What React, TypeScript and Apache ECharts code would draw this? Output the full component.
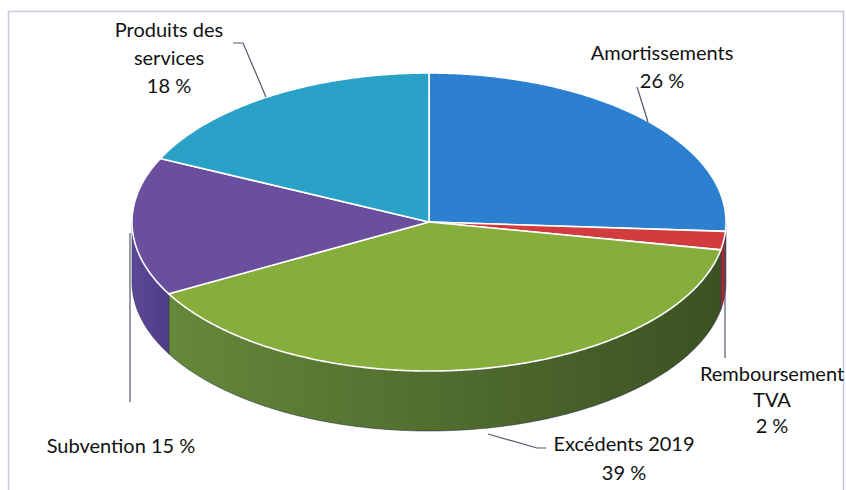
import React, { useEffect, useRef } from "react";
import * as echarts from "echarts";

const sliceNames = ["Amortissements", "Remboursement TVA", "Excédents 2019", "Subvention", "Produits des services"];
const sliceValues = [26, 2, 39, 15, 18];
const labelNames = ["Amortissements", "Remboursement\nTVA", "Excédents 2019", "Subvention", "Produits des\nservices"];
const labelSeparators = ["\n", "\n", "\n", " ", "\n"];
const topColors = ["#2d80cf", "#d23c3f", "#87ad3d", "#6a4f9e", "#2aa2c8"];
const sideColorsLeft = ["#2a6fb0", "#b02f33", "#66883a", "#5c4898", "#2288aa"];
const sideColorsRight = ["#235e98", "#8e2428", "#3b5123", "#4f3c88", "#1c7391"];

const CX = 429, CY = 222, RX = 297, RY = 149, DEPTH = 60;
const FONT = "20px Lato, 'Open Sans', sans-serif";

const total = sliceValues.reduce((a, b) => a + b, 0);
const starts: number[] = [];
{
  let acc = 0;
  for (const v of sliceValues) { starts.push(acc); acc += v; }
}

function pt(theta: number, dy = 0): number[] {
  return [CX + RX * Math.sin(theta), CY - RY * Math.cos(theta) + dy];
}
function arcPts(a: number, b: number, dy: number): number[][] {
  const n = Math.max(2, Math.ceil((b - a) / (Math.PI / 360)));
  const out: number[][] = [];
  for (let k = 0; k <= n; k++) out.push(pt(a + ((b - a) * k) / n, dy));
  return out;
}
function angles(i: number) {
  const a = (starts[i] / total) * Math.PI * 2;
  const b = ((starts[i] + sliceValues[i]) / total) * Math.PI * 2;
  return [a, b];
}

// label placement (positions only)
const labelPos = [
  { x: 662, y: 66, lh: 28 },
  { x: 772, y: 399, lh: 26 },
  { x: 624, y: 457, lh: 29 },
  { x: 121, y: 445, lh: 28 },
  { x: 169, y: 57, lh: 28 },
];
const leaderLines = [
  [[637, 87], [648, 122]],
  [[725, 242], [725, 358]],
  [[488, 434], [537, 448], [546, 448]],
  [[130, 233], [130, 402]],
  [[233, 43], [243, 43], [266, 97]],
];

export default function App() {
  const ref = useRef<HTMLDivElement>(null);
  useEffect(() => {
    if (!ref.current) return;
    const chart = echarts.init(ref.current, undefined, { renderer: "svg" });
    const data = sliceValues.map((v, i) => ({ name: sliceNames[i], value: v }));

    const sideSeries = {
      type: "custom",
      coordinateSystem: "none",
      z: 1,
      data,
      renderItem: (params: any) => {
        const i = params.dataIndex;
        const [a, b] = angles(i);
        const fa = Math.max(a, Math.PI / 2);
        const fb = Math.min(b, (Math.PI * 3) / 2);
        if (fb <= fa) return { type: "group", children: [] };
        const top = arcPts(fa, fb, 0);
        const bottom = arcPts(fa, fb, DEPTH).reverse();
        return {
          type: "polygon",
          shape: { points: top.concat(bottom) },
          style: {
            fill: new echarts.graphic.LinearGradient(0, 0, 1, 0, [
              { offset: 0, color: sideColorsLeft[i] },
              { offset: 1, color: sideColorsRight[i] },
            ]),
            stroke: "rgba(20,30,60,0.6)",
            lineWidth: 0.8,
          },
        };
      },
    };

    const topSeries = {
      type: "custom",
      coordinateSystem: "none",
      z: 2,
      data,
      renderItem: (params: any) => {
        const i = params.dataIndex;
        const [a, b] = angles(i);
        const pts = [[CX, CY]].concat(arcPts(a, b, 0));
        return {
          type: "polygon",
          shape: { points: pts },
          style: { fill: topColors[i], stroke: "#ffffff", lineWidth: 1.6, lineJoin: "round" },
        };
      },
    };

    const graphics: any[] = [
      {
        type: "polyline",
        shape: { points: [[8.5, 490], [8.5, 11.5], [843.5, 11.5], [843.5, 490]] },
        style: { stroke: "#c6cadd", lineWidth: 1.5, fill: "none" },
        z: 0,
      },
    ];
    leaderLines.forEach((pts) => {
      graphics.push({
        type: "polyline",
        shape: { points: pts },
        style: { stroke: "#505868", lineWidth: 1.2, fill: "none" },
        z: 5,
      });
    });
    sliceValues.forEach((v, i) => {
      const p = labelPos[i];
      graphics.push({
        type: "text",
        x: p.x,
        y: p.y,
        z: 6,
        style: {
          text: `${labelNames[i]}${labelSeparators[i]}${v} %`,
          font: FONT,
          fill: "#111111",
          align: "center",
          verticalAlign: "middle",
          lineHeight: p.lh,
        },
      });
    });

    chart.setOption({
      animation: false,
      backgroundColor: "#ffffff",
      series: [sideSeries, topSeries],
      graphic: graphics,
    });
    return () => chart.dispose();
  }, []);
  return (
    <div
      ref={ref}
      style={{ position: "fixed", left: 0, top: 0, width: 846, height: 490 }}
    />
  );
}
